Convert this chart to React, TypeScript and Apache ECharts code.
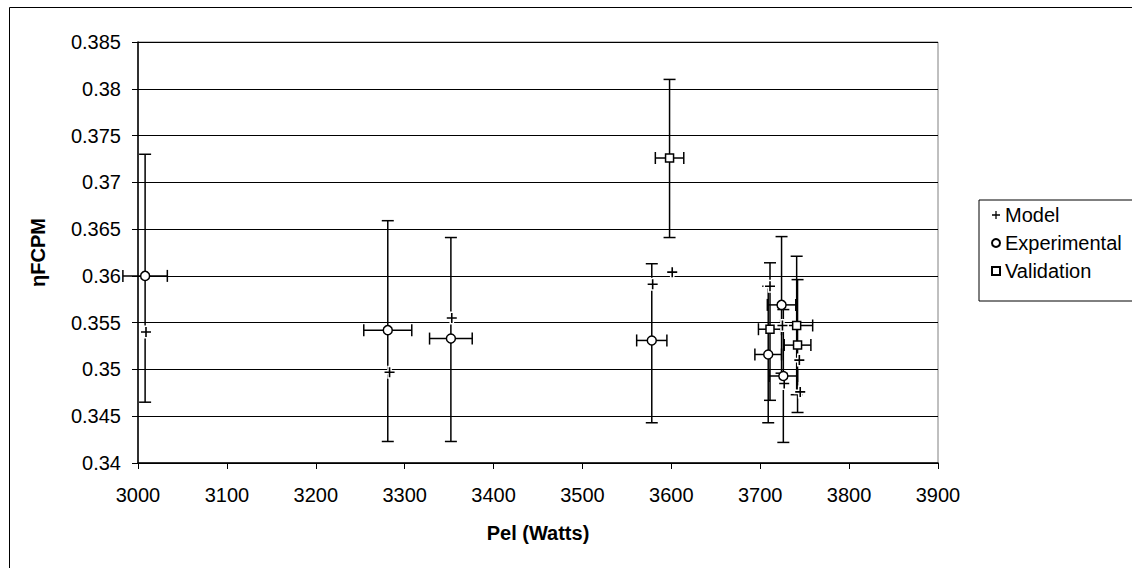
import React, { useEffect, useRef } from "react";
import * as echarts from "echarts";

// Model predictions
const modelX = [3009, 3283, 3353, 3579, 3601, 3711, 3725, 3727, 3744, 3745];
const modelY = [0.354, 0.3497, 0.3555, 0.3591, 0.3604, 0.3589, 0.3547, 0.3485, 0.351, 0.3476];

// Experimental points with error bars
const expX = [3008, 3281, 3352, 3578, 3724, 3709, 3726];
const expY = [0.36, 0.3542, 0.3533, 0.3531, 0.3569, 0.3516, 0.3493];
const expYLow = [0.3465, 0.3423, 0.3423, 0.3443, 0.3496, 0.3443, 0.3422];
const expYHigh = [0.373, 0.3659, 0.3641, 0.3613, 0.3642, 0.3589, 0.3564];
const expXErr = [25, 27, 24, 17, 16, 15, 16];

// Validation points with error bars
const valX = [3598, 3711, 3741, 3742];
const valY = [0.3726, 0.3543, 0.3547, 0.3526];
const valYLow = [0.3641, 0.3467, 0.3473, 0.3454];
const valYHigh = [0.381, 0.3614, 0.3621, 0.3596];
const valXErr = [16, 13, 18, 15];

const FONT = "'Liberation Sans', Arial, sans-serif";
const PLUS = "path://M4.2,0h1.6v4.2h4.2v1.6h-4.2v4.2h-1.6v-4.2h-4.2v-1.6h4.2z";

function errRender(params: any, api: any) {
  const x = api.value(0);
  const y = api.value(1);
  const xe = api.value(2);
  const lo = api.value(3);
  const hi = api.value(4);
  const pLo = api.coord([x, lo]);
  const pHi = api.coord([x, hi]);
  const pL = api.coord([x - xe, y]);
  const pR = api.coord([x + xe, y]);
  const c = 6;
  const style = { stroke: "#000", lineWidth: 1.5 };
  const ln = (x1: number, y1: number, x2: number, y2: number) => ({
    type: "line",
    shape: { x1, y1, x2, y2 },
    style,
  });
  return {
    type: "group",
    children: [
      ln(pLo[0], pLo[1], pHi[0], pHi[1]),
      ln(pLo[0] - c, pLo[1], pLo[0] + c, pLo[1]),
      ln(pHi[0] - c, pHi[1], pHi[0] + c, pHi[1]),
      ln(pL[0], pL[1], pR[0], pR[1]),
      ln(pL[0], pL[1] - c, pL[0], pL[1] + c),
      ln(pR[0], pR[1] - c, pR[0], pR[1] + c),
    ],
  };
}

export default function App() {
  const ref = useRef<HTMLDivElement>(null);
  useEffect(() => {
    if (!ref.current) return;
    const chart = echarts.init(ref.current, null, { renderer: "svg" });
    const modelData = modelX.map((x, i) => [x, modelY[i]]);
    const expData = expX.map((x, i) => [x, expY[i]]);
    const valData = valX.map((x, i) => [x, valY[i]]);
    const expErr = expX.map((x, i) => [x, expY[i], expXErr[i], expYLow[i], expYHigh[i]]);
    const valErr = valX.map((x, i) => [x, valY[i], valXErr[i], valYLow[i], valYHigh[i]]);
    chart.setOption({
      animation: false,
      backgroundColor: "#fff",
      textStyle: { fontFamily: FONT },
      graphic: [
        {
          type: "rect",
          shape: { x: 9.5, y: 7.5, width: 1140, height: 580 },
          style: { fill: "none", stroke: "#000", lineWidth: 1 },
          silent: true,
        },
      ],
      grid: {
        left: 138,
        top: 42,
        width: 800,
        height: 421,
        show: true,
        borderColor: "#808080",
        borderWidth: 1,
      },
      legend: {
        orient: "vertical",
        left: 979,
        top: 200,
        padding: [5, 12, 20, 12],
        itemGap: 8,
        itemWidth: 8,
        itemHeight: 8,
        borderColor: "#000",
        borderWidth: 1,
        backgroundColor: "#fff",
        textStyle: { fontSize: 20, color: "#000", fontFamily: FONT },
        data: [
          { name: "Model", icon: PLUS },
          { name: "Experimental", icon: "circle" },
          { name: "Validation", icon: "rect" },
        ],
      },
      xAxis: {
        type: "value",
        min: 3000,
        max: 3900,
        interval: 100,
        name: "Pel (Watts)",
        nameLocation: "middle",
        nameGap: 60,
        nameTextStyle: { fontSize: 20, fontWeight: "bold", color: "#000", fontFamily: FONT },
        axisLine: { show: true, onZero: false, lineStyle: { color: "#000", width: 1.5 } },
        axisTick: { show: true, length: 6, lineStyle: { color: "#000" } },
        axisLabel: {
          fontSize: 20,
          color: "#000",
          margin: 22,
          fontFamily: FONT,
          formatter: (v: number) => String(Math.round(v)),
        },
        splitLine: { show: false },
      },
      yAxis: {
        type: "value",
        min: 0.34,
        max: 0.385,
        interval: 0.005,
        name: "ηFCPM",
        nameLocation: "middle",
        nameRotate: 90,
        nameGap: 90,
        nameTextStyle: { fontSize: 20, fontWeight: "bold", color: "#000", fontFamily: FONT },
        axisLine: { show: true, onZero: false, lineStyle: { color: "#000", width: 1.5 } },
        axisTick: { show: true, length: 6, lineStyle: { color: "#000" } },
        axisLabel: {
          fontSize: 20,
          color: "#000",
          margin: 17,
          fontFamily: FONT,
          formatter: (v: number) => String(+v.toFixed(3)),
        },
        splitLine: { show: true, lineStyle: { color: "#000", width: 1 } },
      },
      series: [
        {
          type: "custom",
          name: "expErr",
          renderItem: errRender,
          data: expErr,
          encode: { x: 0, y: 1 },
          z: 2,
          silent: true,
        },
        {
          type: "custom",
          name: "valErr",
          renderItem: errRender,
          data: valErr,
          encode: { x: 0, y: 1 },
          z: 2,
          silent: true,
        },
        {
          type: "scatter",
          name: "modelHalo",
          symbol: PLUS,
          symbolSize: 10,
          data: modelData,
          itemStyle: { color: "#fff", borderColor: "#fff", borderWidth: 3, opacity: 1 },
          z: 3,
          silent: true,
        },
        {
          type: "scatter",
          name: "Model",
          symbol: PLUS,
          symbolSize: 10,
          data: modelData,
          itemStyle: { color: "#000", opacity: 1 },
          z: 4,
        },
        {
          type: "scatter",
          name: "Experimental",
          symbol: "circle",
          symbolSize: 9,
          data: expData,
          itemStyle: { color: "#fff", borderColor: "#000", borderWidth: 1.5, opacity: 1 },
          z: 5,
        },
        {
          type: "scatter",
          name: "Validation",
          symbol: "rect",
          symbolSize: 8,
          data: valData,
          itemStyle: { color: "#fff", borderColor: "#000", borderWidth: 1.5, opacity: 1 },
          z: 5,
        },
      ],
    });
    return () => chart.dispose();
  }, []);
  return (
    <div
      ref={ref}
      style={{ position: "absolute", left: 0, top: 0, width: 1132, height: 568 }}
    />
  );
}
